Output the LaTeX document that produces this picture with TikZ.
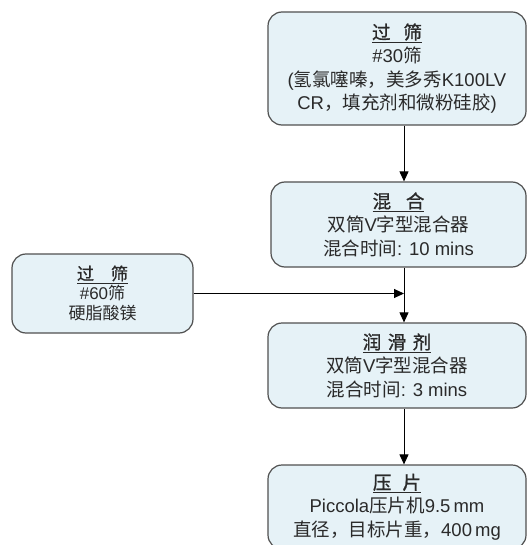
\documentclass[tikz,border=0pt]{standalone}
\usepackage{fontspec}
\setmainfont{Liberation Sans}
\newfontfamily\zhfont{Noto Sans CJK SC}
\newfontfamily\zhbfont[FakeBold=1.2]{Noto Sans CJK SC}
\newcommand{\zh}[1]{{\zhfont #1}}
\newcommand{\zhb}[1]{{\zhbfont #1}}
\usetikzlibrary{arrows.meta}
\definecolor{boxfill}{HTML}{E6F2F7}
\definecolor{boxline}{HTML}{505050}
\definecolor{txt}{HTML}{2A2A2A}
\tikzset{
  box/.style={draw=boxline, line width=1.2pt, fill=boxfill, rounded corners=14pt,
    align=center, text=txt, inner sep=0pt, font=\fontsize{18.5}{23.5}\selectfont},
  smallbox/.style={box, font=\fontsize{17}{20}\selectfont},
  arr/.style={draw=black, line width=1pt, -{Triangle[length=10pt,width=9pt]}}
}
\begin{document}
\begin{tikzpicture}[x=1pt,y=-1pt]
\useasboundingbox (0,0) rectangle (527,545);
\node[box, minimum width=258pt, minimum height=113pt] (b1) at (397,68.5)
  {\underline{\zhb{过\hspace{0.7em}筛}}\\ \#30\zh{筛}\\ (\zh{氢氯噻嗪，美多秀}K100LV\\ CR\zh{，填充剂和微粉硅胶})};
\node[box, minimum width=255pt, minimum height=85pt] (b2) at (398.5,224.5)
  {\underline{\zhb{混\hspace{0.8em}合}}\\ \zh{双筒}V\zh{字型混合器}\\ \zh{混合时间}: 10 mins};
\node[smallbox, minimum width=181pt, minimum height=79pt] (l) at (102.5,293.5)
  {\underline{\zhb{过\hspace{1em}筛}}\\ \#60\zh{筛}\\ \zh{硬脂酸镁}};
\node[box, minimum width=258pt, minimum height=85pt] (b3) at (397,365.5)
  {\underline{\zhb{润\hspace{0.35em}滑\hspace{0.35em}剂}}\\ \zh{双筒}V\zh{字型混合器}\\ \zh{混合时间}: 3 mins};
\node[box, minimum width=258pt, minimum height=84pt] (b4) at (397,507)
  {\underline{\zhb{压\hspace{0.6em}片}}\\ Piccola\zh{压片机}9.5\,mm\\ \zh{直径，目标片重，}400\,mg};
\coordinate (ax) at (404,0);
\draw[arr] (b1.south -| ax) -- (b2.north -| ax);
\draw[arr] (b2.south -| ax) -- (b3.north -| ax);
\draw[arr] (b3.south -| ax) -- (b4.north -| ax);
\draw[arr] (l.east) -- (l.east -| ax);
\end{tikzpicture}
\end{document}
